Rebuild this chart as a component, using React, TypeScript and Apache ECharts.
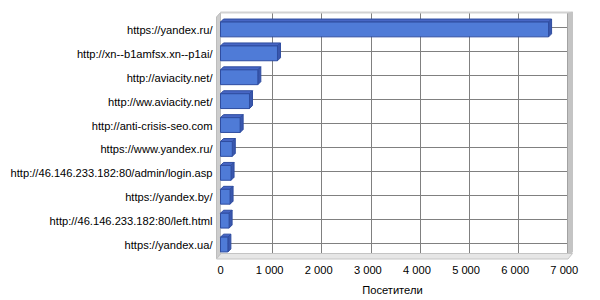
import React, { useEffect, useRef } from "react";
import * as echarts from "echarts";

const categories = [
  "https://yandex.ru/",
  "http://xn--b1amfsx.xn--p1ai/",
  "http://aviacity.net/",
  "http://ww.aviacity.net/",
  "http://anti-crisis-seo.com",
  "https://www.yandex.ru/",
  "http://46.146.233.182:80/admin/login.asp",
  "https://yandex.by/",
  "http://46.146.233.182:80/left.html",
  "https://yandex.ua/",
];
const visitors = [6680, 1160, 760, 590, 400, 240, 215, 195, 175, 150];
const axisMin = 0;
const axisMax = 7000;
const axisStep = 1000;
const axisTitle = "Посетители";

const FONT = "'Liberation Sans', Arial, sans-serif";
const GRID_COLOR = "#808080";
const FS = 11.15;

function fmt(v: number): string {
  return String(Math.round(v)).replace(/\B(?=(\d{3})+(?!\d))/g, " ");
}

export default function App() {
  const ref = useRef<HTMLDivElement>(null);
  useEffect(() => {
    if (!ref.current) return;
    const chart = echarts.init(ref.current, null, { renderer: "svg" });
    const d = 3;
    chart.setOption({
      animation: false,
      backgroundColor: "#ffffff",
      textStyle: { fontFamily: FONT },
      grid: [
        { left: 220.5, right: 35.7, top: 18, bottom: 42 },
        { left: 222, right: 32.7, top: 27, bottom: 57 },
        { left: 223.5, right: 32.7, top: 13, bottom: 47 },
      ],
      xAxis: [
        {
          gridIndex: 0,
          type: "value",
          min: axisMin,
          max: axisMax,
          interval: axisStep,
          axisLine: { show: false },
          axisTick: { show: true, inside: true, length: 4, lineStyle: { color: GRID_COLOR } },
          splitLine: { show: false },
          axisLabel: {
            color: "#000",
            fontSize: FS,
            fontFamily: FONT,
            margin: 7,
            formatter: (v: number) => fmt(v),
          },
          name: axisTitle,
          nameLocation: "middle",
          nameGap: 27,
          nameTextStyle: { color: "#000", fontSize: FS, fontFamily: FONT },
        },
        {
          gridIndex: 1,
          type: "value",
          min: axisMin,
          max: axisMax,
          show: false,
          splitLine: { show: false },
        },
        {
          gridIndex: 2,
          type: "value",
          min: axisMin,
          max: axisMax,
          interval: axisStep,
          axisLine: { show: false },
          axisTick: { show: false },
          axisLabel: { show: false },
          splitLine: {
            show: true,
            showMinLine: false,
            lineStyle: { color: GRID_COLOR, width: 1 },
          },
        },
      ],
      yAxis: [
        {
          gridIndex: 0,
          type: "category",
          data: categories,
          inverse: true,
          axisLine: { show: false },
          axisTick: { show: true, alignWithLabel: true, length: 4, lineStyle: { color: "#333" } },
          splitLine: { show: false },
          axisLabel: { color: "#000", fontSize: FS, fontFamily: FONT, margin: 8 },
        },
        {
          gridIndex: 1,
          type: "category",
          data: categories,
          inverse: true,
          boundaryGap: false,
          axisLine: { show: false },
          axisTick: { show: false },
          axisLabel: { show: false },
          splitLine: { show: true, lineStyle: { color: GRID_COLOR, width: 1 } },
        },
        {
          gridIndex: 2,
          type: "value",
          show: false,
          splitLine: { show: false },
        },
      ],
      graphic: [
        {
          type: "polygon",
          z: 5,
          shape: { points: [[216.5, 17], [220.5, 12.5], [220.5, 254], [216.5, 259]] },
          style: { fill: "#cdcdcd", stroke: "#bdbdbd", lineWidth: 1 },
        },
        {
          type: "polygon",
          z: 5,
          shape: { points: [[220.5, 11.5], [572, 11.5], [572, 13.5], [220.5, 13.5]] },
          style: { fill: "#d2d2d2" },
        },
        {
          type: "polygon",
          z: 5,
          shape: { points: [[567.5, 13], [573, 11.5], [573, 252], [567.5, 257]] },
          style: { fill: "#c4c4c4" },
        },
        {
          type: "polygon",
          z: 5,
          shape: { points: [[216.5, 259], [221, 253.5], [572.5, 253.5], [568, 259]] },
          style: { fill: "#e6e6e6", stroke: "#c4c4c4", lineWidth: 1 },
        },
      ],
      series: [
        {
          type: "custom",
          xAxisIndex: 0,
          yAxisIndex: 0,
          z: 10,
          encode: { x: 0, y: 1 },
          data: visitors.map((v, i) => [v, i]),
          renderItem: (params: any, api: any) => {
            const v = api.value(0);
            const i = api.value(1);
            const p0 = api.coord([0, i]);
            const p1 = api.coord([v, i]);
            const band = api.size([0, 1])[1];
            const h = band * 0.62;
            const x0 = p0[0];
            const x1 = p1[0];
            const yT = p0[1] - h / 2 - 0.5;
            const yB = yT + h;
            const border = "#2f4da0";
            return {
              type: "group",
              children: [
                {
                  type: "polygon",
                  shape: { points: [[x0, yT], [x0 + d, yT - d], [x1 + d, yT - d], [x1, yT]] },
                  style: { fill: "#4766c4", stroke: border, lineWidth: 1 },
                },
                {
                  type: "polygon",
                  shape: { points: [[x1, yT], [x1 + d, yT - d], [x1 + d, yB - d], [x1, yB]] },
                  style: { fill: "#3a57ad", stroke: border, lineWidth: 1 },
                },
                {
                  type: "rect",
                  shape: { x: x0, y: yT, width: x1 - x0, height: h },
                  style: { fill: "#4f7bd7", stroke: border, lineWidth: 1 },
                },
              ],
            };
          },
        },
      ],
    });
    return () => chart.dispose();
  }, []);
  return (
    <div
      ref={ref}
      style={{ position: "absolute", left: 0, top: 0, width: 600, height: 300 }}
    />
  );
}
